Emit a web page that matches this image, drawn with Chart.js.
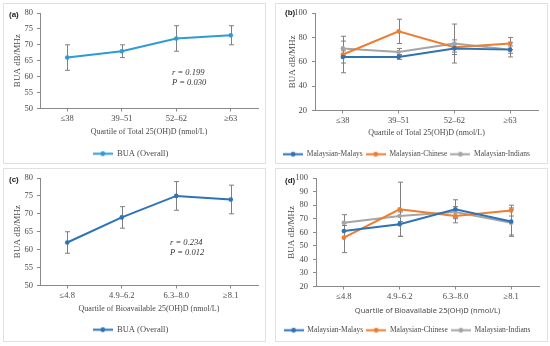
<!DOCTYPE html>
<html>
<head>
    <title>BUA by vitamin D quartile</title>
    <script src="https://cdn.jsdelivr.net/npm/chart.js@4/dist/chart.umd.min.js"></script>
    <style>
        body {
            margin: 0;
            background: #fff;
            width: 550px;
            height: 346px;
            position: relative;
            overflow: hidden;
            font-family: "Liberation Serif", serif;
        }
        .panel {
            position: absolute;
            border: 1px solid #e1e1e1;
            box-sizing: border-box;
        }
        canvas { position: absolute; }
        .tag {
            position: absolute;
            font: bold 8px "Liberation Sans", sans-serif;
            color: #222;
        }
        .note {
            position: absolute;
            font: italic 8.5px "Liberation Serif", serif;
            color: #333;
            line-height: 10px;
        }
    </style>
</head>
<body>
    <div class="panel" style="left:3px;top:3px;width:263px;height:161px"></div>
    <div class="panel" style="left:275px;top:3px;width:273px;height:161px"></div>
    <div class="panel" style="left:3px;top:168px;width:263px;height:174px"></div>
    <div class="panel" style="left:275px;top:168px;width:273px;height:174px"></div>

    <canvas id="chartA" width="262" height="167" style="left:3px;top:3px"></canvas>
    <canvas id="chartB" width="272" height="167" style="left:275px;top:3px"></canvas>
    <canvas id="chartC" width="262" height="178" style="left:3px;top:168px"></canvas>
    <canvas id="chartD" width="272" height="178" style="left:275px;top:168px"></canvas>

    <div class="tag" style="left:9px;top:10px">(a)</div>
    <div class="tag" style="left:285px;top:8px">(b)</div>
    <div class="tag" style="left:9px;top:175px">(c)</div>
    <div class="tag" style="left:285px;top:176px">(d)</div>

    <div class="note" style="left:172px;top:67px">r = 0.199<br>P = 0.030</div>
    <div class="note" style="left:170px;top:237px">r = 0.234<br>P = 0.012</div>

<script type="text/javascript">
    // quartile labels
    const labelsTotal = ['≤38', '39–51', '52–62', '≥63'];
    const labelsBio = ['≤4.8', '4.9–6.2', '6.3–8.0', '≥8.1'];

    // (a) overall, total 25(OH)D
    const overallTotal = [66, 68, 72, 73];
    const overallTotalLow = [62, 66, 68, 70];
    const overallTotalHigh = [70, 70, 76, 76];

    // (c) overall, bioavailable 25(OH)D
    const overallBio = [62, 69, 75, 74];
    const overallBioLow = [59, 66, 71, 70];
    const overallBioHigh = [65, 72, 79, 78];

    // (b) by ethnicity, total 25(OH)D
    const malaysTotal = [64, 64, 71, 70];
    const malaysTotalLow = [59, 62, 68, 67];
    const malaysTotalHigh = [69, 66, 74, 73];
    const chineseTotal = [66, 85, 72, 75];
    const chineseTotalLow = [51, 75, 66, 70];
    const chineseTotalHigh = [81, 95, 78, 80];
    const indiansTotal = [71, 68, 75, 70];
    const indiansTotalLow = [65, 65, 59, 64];
    const indiansTotalHigh = [77, 71, 91, 76];

    // (d) by ethnicity, bioavailable 25(OH)D
    const malaysBio = [61, 66, 77, 68];
    const malaysBioLow = [57, 57, 70, 58];
    const malaysBioHigh = [65, 75, 84, 78];
    const chineseBio = [56, 77, 72, 76];
    const chineseBioLow = [45, 57, 67, 72];
    const chineseBioHigh = [67, 97, 77, 80];
    const indiansBio = [67, 72, 75, 67];
    const indiansBioLow = [61, 68, 71, 57];
    const indiansBioHigh = [73, 76, 79, 77];

    const lightBlue = '#2f9bd6';
    const blue = '#2e72b8';
    const orange = '#ed7d31';
    const grey = '#a5a5a5';
    const textColor = '#4a4a4a';
    const axisColor = '#8a8a8a';

    // whiskers drawn through the chart's own scales
    const errorBars = {
        id: 'errorBars',
        beforeDatasetsDraw(chart) {
            const ctx = chart.ctx;
            const xs = chart.scales.x, ys = chart.scales.y;
            ctx.save();
            ctx.strokeStyle = '#7f7f7f';
            ctx.lineWidth = 1;
            chart.data.datasets.forEach(ds => {
                ds.data.forEach((v, i) => {
                    const x = Math.round(xs.getPixelForValue(i)) + 0.5;
                    const yl = ys.getPixelForValue(ds.errLow[i]);
                    const yh = ys.getPixelForValue(ds.errHigh[i]);
                    ctx.beginPath();
                    ctx.moveTo(x, yl); ctx.lineTo(x, yh);
                    ctx.moveTo(x - 2.5, yl); ctx.lineTo(x + 2.5, yl);
                    ctx.moveTo(x - 2.5, yh); ctx.lineTo(x + 2.5, yh);
                    ctx.stroke();
                });
            });
            ctx.restore();
        }
    };

    function legendIcon(color) {
        const c = document.createElement('canvas');
        c.width = 20; c.height = 7;
        const g = c.getContext('2d');
        g.strokeStyle = color; g.lineWidth = 2;
        g.beginPath(); g.moveTo(0, 3.5); g.lineTo(20, 3.5); g.stroke();
        g.fillStyle = color;
        g.beginPath(); g.arc(10, 3.5, 2.4, 0, Math.PI * 2); g.fill();
        return c;
    }

    function buildChart(id, o) {
        const canvas = document.getElementById(id);
        const h = canvas.height, w = canvas.width;
        const legendTop = o.legendY - 7;
        const xHeight = legendTop - o.area.bottom;
        const serif = { family: '"Liberation Serif", serif', size: 8.5 };
        return new Chart(canvas, {
            type: 'line',
            data: {
                labels: o.labels,
                datasets: o.series.map(s => ({
                    label: s.name,
                    data: s.values,
                    errLow: s.low,
                    errHigh: s.high,
                    borderColor: s.color,
                    backgroundColor: s.color,
                    borderWidth: 2,
                    pointRadius: 2.3,
                    pointBorderWidth: 0,
                    pointHoverRadius: 2.3,
                    tension: 0
                }))
            },
            options: {
                responsive: false,
                animation: false,
                events: [],
                layout: {
                    padding: { left: 0, top: o.area.top, right: w - o.area.right, bottom: h - legendTop - 21 }
                },
                plugins: {
                    tooltip: { enabled: false },
                    legend: {
                        position: 'bottom',
                        labels: {
                            font: { family: '"Liberation Serif", serif', size: o.legendSize || 8.5 },
                            color: textColor,
                            usePointStyle: true,
                            pointStyleWidth: 20,
                            padding: 3,
                            generateLabels: chart => Chart.defaults.plugins.legend.labels.generateLabels(chart).map(it => {
                                it.pointStyle = legendIcon(chart.data.datasets[it.datasetIndex].borderColor);
                                return it;
                            })
                        }
                    }
                },
                scales: {
                    x: {
                        offset: true,
                        grid: { drawOnChartArea: false, offset: false, tickLength: 3, color: axisColor },
                        border: { color: axisColor },
                        ticks: { font: serif, color: textColor, padding: 2, maxRotation: 0 },
                        title: {
                            display: true, text: o.xTitle, color: textColor,
                            font: o.xTitleFont || { family: '"Liberation Serif", serif', size: 8 },
                            padding: { top: 0, bottom: legendTop - o.titleY - 4.8 }
                        },
                        afterFit: s => { s.height = xHeight; }
                    },
                    y: {
                        min: o.yMin, max: o.yMax,
                        grid: { drawOnChartArea: false, tickLength: 3, color: axisColor },
                        border: { color: axisColor },
                        ticks: { stepSize: o.yStep, font: serif, color: textColor, padding: o.yPad },
                        title: {
                            display: true, text: 'BUA dB/MHz', color: textColor,
                            font: { family: '"Liberation Serif", serif', size: 9 },
                            padding: { top: o.yTitleX - 5.4, bottom: 0 }
                        },
                        afterFit: s => { s.width = o.area.left; }
                    }
                }
            },
            plugins: [errorBars]
        });
    }

    buildChart('chartA', {
        labels: labelsTotal,
        series: [{ name: 'BUA (Overall)', values: overallTotal, low: overallTotalLow, high: overallTotalHigh, color: lightBlue }],
        xTitle: 'Quartile of Total 25(OH)D (nmol/L)',
        yMin: 50, yMax: 80, yStep: 5, yPad: 4, yTitleX: 15,
        area: { left: 37, top: 10, right: 255, bottom: 106 },
        legendY: 151, titleY: 129
    });

    buildChart('chartB', {
        labels: labelsTotal,
        series: [
            { name: 'Malaysian-Malays', values: malaysTotal, low: malaysTotalLow, high: malaysTotalHigh, color: blue },
            { name: 'Malaysian-Chinese', values: chineseTotal, low: chineseTotalLow, high: chineseTotalHigh, color: orange },
            { name: 'Malaysian-Indians', values: indiansTotal, low: indiansTotalLow, high: indiansTotalHigh, color: grey }
        ],
        xTitle: 'Quartile of Total 25(OH)D (nmol/L)',
        yMin: 20, yMax: 100, yStep: 10, yPad: 5, yTitleX: 18,
        area: { left: 40, top: 9, right: 263, bottom: 107 },
        legendY: 151, titleY: 129, legendSize: 7.5
    });

    buildChart('chartC', {
        labels: labelsBio,
        series: [{ name: 'BUA (Overall)', values: overallBio, low: overallBioLow, high: overallBioHigh, color: blue }],
        xTitle: 'Quartile of Bioavailable 25(OH)D (nmol/L)',
        yMin: 50, yMax: 80, yStep: 5, yPad: 4, yTitleX: 15,
        area: { left: 37, top: 10, right: 255, bottom: 118 },
        legendY: 162, titleY: 141
    });

    buildChart('chartD', {
        labels: labelsBio,
        series: [
            { name: 'Malaysian-Malays', values: malaysBio, low: malaysBioLow, high: malaysBioHigh, color: blue },
            { name: 'Malaysian-Chinese', values: chineseBio, low: chineseBioLow, high: chineseBioHigh, color: orange },
            { name: 'Malaysian-Indians', values: indiansBio, low: indiansBioLow, high: indiansBioHigh, color: grey }
        ],
        xTitle: 'Quartile of Bioavailable 25(OH)D (nmol/L)',
        xTitleFont: { family: '"Noto Sans", sans-serif', size: 7.5 },
        yMin: 20, yMax: 100, yStep: 10, yPad: 5, yTitleX: 17,
        area: { left: 41, top: 10, right: 264, bottom: 118 },
        legendY: 162, titleY: 142, legendSize: 7.5
    });
</script>
</body>
</html>
